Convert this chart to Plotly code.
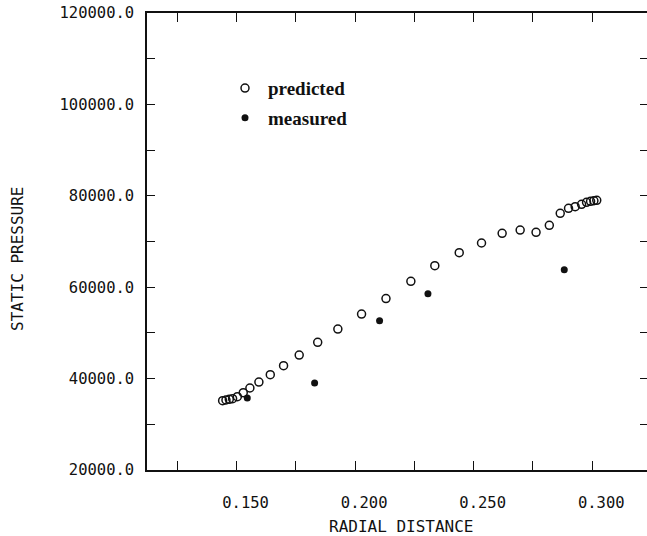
import plotly.graph_objects as go

# Predicted (open circles)
pred_x = [0.1441, 0.1455, 0.1469, 0.1483, 0.1503, 0.1528, 0.1556, 0.1594, 0.1642, 0.1698,
          0.1764, 0.1842, 0.1927, 0.2027, 0.2130, 0.2235, 0.2336, 0.2439, 0.2533, 0.2620,
          0.2696, 0.2763, 0.2819, 0.2865, 0.2900, 0.2928, 0.2955, 0.2976, 0.2993, 0.3007, 0.3019]
pred_p = [35160, 35320, 35470, 35600, 36040, 36910, 37940, 39250, 40850, 42820,
          45160, 47940, 50850, 54130, 57520, 61290, 64700, 67550, 69670, 71790,
          72510, 72010, 73540, 76170, 77260, 77610, 78130, 78570, 78790, 78920, 79010]

# Measured (filled circles)
meas_x = [0.1545, 0.1829, 0.2103, 0.2307, 0.2882]
meas_p = [35750, 39040, 52670, 58570, 63830]

x_tickvals = [0.125, 0.150, 0.175, 0.200, 0.225, 0.250, 0.275, 0.300]
x_ticktext = ["", "0.150", "", "0.200", "", "0.250", "", "0.300"]
y_tickvals = [20000, 30000, 40000, 50000, 60000, 70000, 80000, 90000, 100000, 110000, 120000]
y_ticktext = ["20000.0", "", "40000.0", "", "60000.0", "", "80000.0", "", "100000.0", "", "120000.0"]

x_range = [0.1122, 0.3231]
y_range = [20000, 120000]

mono = "DejaVu Sans Mono"
ink = "#111111"

fig = go.Figure()
fig.add_trace(go.Scatter(
    x=pred_x, y=pred_p, mode="markers", name="predicted", legendgroup="a",
    marker=dict(symbol="circle-open", size=8, color=ink, line=dict(width=1.5, color=ink)),
))
fig.add_trace(go.Scatter(
    x=meas_x, y=meas_p, mode="markers", name="measured", legendgroup="b",
    marker=dict(symbol="circle", size=7, color=ink),
))
# invisible trace carrying the right-hand tick marks
fig.add_trace(go.Scatter(x=[None], y=[None], yaxis="y2", showlegend=False, hoverinfo="skip"))

fig.update_layout(
    width=647, height=536,
    margin=dict(l=147, r=0, t=13, b=66, autoexpand=False),
    paper_bgcolor="white", plot_bgcolor="white",
    font=dict(family=mono, size=15, color=ink),
    showlegend=True,
    legend=dict(
        x=0.150, y=0.877, xanchor="left", yanchor="top",
        bgcolor="rgba(0,0,0,0)", itemwidth=36,
        font=dict(family="Liberation Serif", size=19, color=ink, weight="bold"),
        tracegroupgap=2, traceorder="grouped",
    ),
    xaxis=dict(
        range=x_range, tickmode="array", tickvals=x_tickvals, ticktext=x_ticktext,
        ticks="inside", ticklen=9, tickwidth=1.3, tickcolor=ink,
        showline=True, linecolor=ink, linewidth=1.5, mirror="ticks",
        showgrid=False, zeroline=False, automargin=False,
        ticklabelshift=9, ticklabelstandoff=18, ticklabeloverflow="allow",
        tickfont=dict(family=mono, size=15.5, color=ink),
    ),
    yaxis=dict(
        range=y_range, tickmode="array", tickvals=y_tickvals, ticktext=y_ticktext,
        ticks="inside", ticklen=8, tickwidth=1.3, tickcolor=ink,
        showline=True, linecolor=ink, linewidth=1.5, mirror=False,
        showgrid=False, zeroline=False, automargin=False,
        ticklabelstandoff=8, ticklabeloverflow="allow",
        tickfont=dict(family=mono, size=15.5, color=ink),
    ),
    yaxis2=dict(
        range=y_range, overlaying="y", side="right", tickmode="array", tickvals=y_tickvals,
        ticks="inside", ticklen=7, tickwidth=1.3, tickcolor=ink, automargin=False,
        showline=False, showgrid=False, zeroline=False, showticklabels=False,
    ),
    annotations=[
        dict(text="RADIAL DISTANCE", xref="paper", yref="paper", x=0.508, y=-0.123,
             xanchor="center", yanchor="middle", showarrow=False,
             font=dict(family=mono, size=16, color=ink)),
        dict(text="STATIC PRESSURE", xref="paper", yref="paper", x=-0.26, y=0.4617,
             xanchor="center", yanchor="middle", showarrow=False, textangle=-90,
             font=dict(family=mono, size=16, color=ink)),
    ],
)

# remove the browser's default 8px body margin so the 647x536 figure fills the window
fig.write_html(
    "out.html",
    config={"displayModeBar": False},
    post_script=("document.body.style.margin='0';document.body.style.overflow='hidden';"
                 "document.documentElement.style.overflow='hidden';"),
)
